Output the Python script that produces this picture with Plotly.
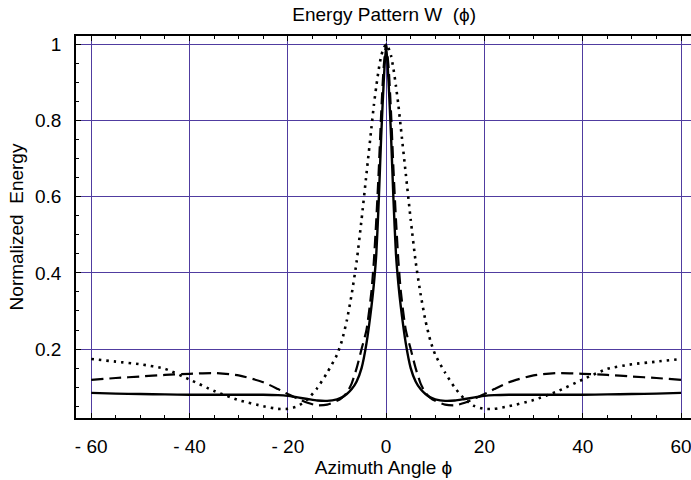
import plotly.graph_objects as go

# Azimuth angles (degrees)
phi = [-60, -55, -50, -45, -40, -35, -30, -25, -22, -20, -18, -16, -14, -12, -10, -9, -8, -7, -6, -5, -4, -3, -2.5, -2, -1.5, -1, -0.5,
       0,
       0.5, 1, 1.5, 2, 2.5, 3, 4, 5, 6, 7, 8, 9, 10, 12, 14, 16, 18, 20, 22, 25, 30, 35, 40, 45, 50, 55, 60]

solid = [0.085, 0.083, 0.082, 0.081, 0.080, 0.080, 0.080, 0.080, 0.079, 0.077, 0.073, 0.069, 0.065, 0.064, 0.068, 0.073, 0.082, 0.095, 0.115, 0.15, 0.215, 0.31, 0.37, 0.45, 0.59, 0.76, 0.90,
         1.0,
         0.90, 0.76, 0.59, 0.45, 0.37, 0.31, 0.215, 0.15, 0.115, 0.095, 0.082, 0.073, 0.068, 0.064, 0.065, 0.069, 0.073, 0.077, 0.079, 0.080, 0.080, 0.080, 0.080, 0.081, 0.082, 0.083, 0.085]

dashed = [0.119, 0.124, 0.128, 0.132, 0.135, 0.137, 0.131, 0.113, 0.095, 0.082, 0.070, 0.059, 0.052, 0.054, 0.064, 0.072, 0.085, 0.11, 0.15, 0.20, 0.25, 0.35, 0.43, 0.54, 0.67, 0.82, 0.94,
          1.0,
          0.94, 0.82, 0.67, 0.54, 0.43, 0.35, 0.25, 0.20, 0.15, 0.11, 0.085, 0.072, 0.064, 0.054, 0.052, 0.059, 0.070, 0.082, 0.095, 0.113, 0.131, 0.137, 0.135, 0.132, 0.128, 0.124, 0.119]

dotted = [0.174, 0.167, 0.160, 0.148, 0.120, 0.090, 0.066, 0.050, 0.043, 0.043, 0.050, 0.068, 0.098, 0.138, 0.185, 0.222, 0.275, 0.345, 0.43, 0.54, 0.66, 0.78, 0.84, 0.89, 0.935, 0.97, 0.99,
          1.0,
          0.99, 0.97, 0.935, 0.89, 0.84, 0.78, 0.66, 0.54, 0.43, 0.345, 0.275, 0.222, 0.185, 0.138, 0.098, 0.068, 0.050, 0.043, 0.043, 0.050, 0.066, 0.090, 0.120, 0.148, 0.160, 0.167, 0.174]

x_ticks = [-60, -40, -20, 0, 20, 40, 60]
x_tick_text = ["- 60", "- 40", "- 20", "0", "20", "40", "60"]
y_ticks = [0.2, 0.4, 0.6, 0.8, 1.0]
y_tick_text = ["0.2", "0.4", "0.6", "0.8", "1"]

FONT = "Liberation Sans, Arial, sans-serif"
GRID = "rgb(80,60,160)"

fig = go.Figure()
fig.add_trace(go.Scatter(x=phi, y=dotted, mode="lines", line=dict(color="black", width=2.6, dash="2.5px,5px", shape="spline", smoothing=0.6)))
fig.add_trace(go.Scatter(x=phi, y=dashed, mode="lines", line=dict(color="black", width=2.2, dash="12px,6px", shape="spline", smoothing=0.6)))
fig.add_trace(go.Scatter(x=phi, y=solid, mode="lines", line=dict(color="black", width=2.4, shape="spline", smoothing=0.6)))

fig.update_layout(
    width=691, height=480,
    margin=dict(l=76, r=0, t=36, b=62),
    paper_bgcolor="white", plot_bgcolor="white",
    showlegend=False,
    font=dict(family=FONT, size=19, color="black"),
    title=dict(text="Energy Pattern W\u00a0\u00a0(ϕ)", x=0.556, xanchor="center", y=0.97, yanchor="middle",
               font=dict(family=FONT, size=19, color="black")),
    xaxis=dict(
        range=[-63.1, 62.03], tickvals=x_ticks, ticktext=x_tick_text,
        showgrid=True, gridcolor=GRID, gridwidth=1, zeroline=False,
        showline=True, linecolor="black", linewidth=1.5, mirror="ticks",
        ticks="inside", ticklen=5, tickcolor="black", tickwidth=1,
        minor=dict(dtick=5, tick0=0, ticks="inside", ticklen=3, tickcolor="black", showgrid=False),
        ticklabelstandoff=10,
        ticklabeloverflow="allow",
        tickfont=dict(size=19),
        title=dict(text="Azimuth Angle ϕ", standoff=4, font=dict(family=FONT, size=19)),
    ),
    yaxis=dict(
        range=[0.019, 1.022], tickvals=y_ticks, ticktext=y_tick_text,
        showgrid=True, gridcolor=GRID, gridwidth=1, zeroline=False,
        showline=True, linecolor="black", linewidth=1.5, mirror=False,
        ticks="inside", ticklen=5, tickcolor="black", tickwidth=1,
        minor=dict(dtick=0.05, tick0=0, ticks="inside", ticklen=3, tickcolor="black", showgrid=False),
        ticklabelstandoff=9,
        tickfont=dict(size=19),
        title=dict(text="Normalized\u00a0\u00a0Energy", standoff=6, font=dict(family=FONT, size=19)),
    ),
)

fig.write_html("out.html")
